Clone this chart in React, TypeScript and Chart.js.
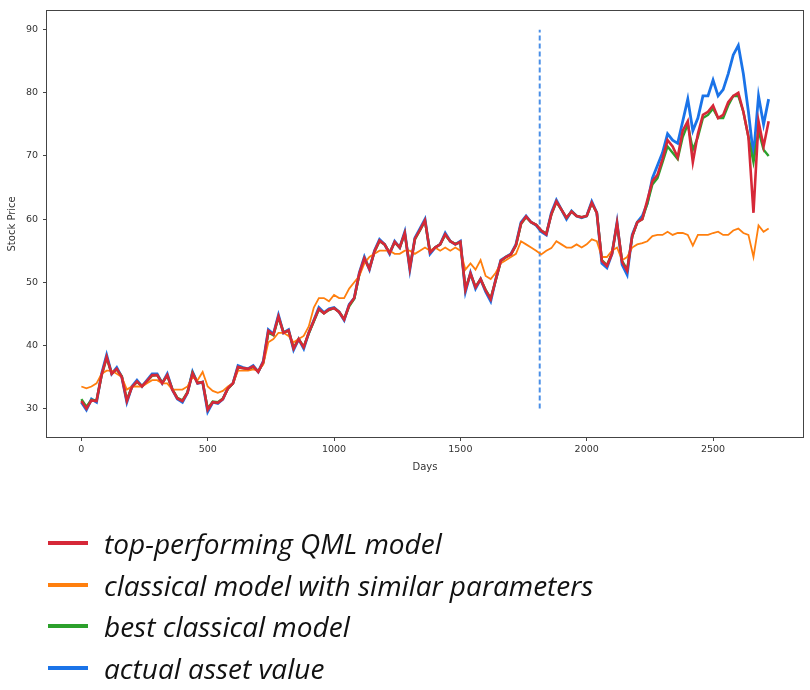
import React, { useEffect, useRef } from "react";
import { Chart, registerables } from "chart.js";

Chart.register(...registerables);

const days = [
  0, 20, 40, 60, 80, 100, 120, 140, 160, 180, 200, 220, 240, 260, 280, 300, 320, 340, 360, 380,
  400, 420, 440, 460, 480, 500, 520, 540, 560, 580, 600, 620, 640, 660, 680, 700, 720, 740, 760, 780,
  800, 820, 840, 860, 880, 900, 920, 940, 960, 980, 1000, 1020, 1040, 1060, 1080, 1100, 1120, 1140, 1160, 1180,
  1200, 1220, 1240, 1260, 1280, 1300, 1320, 1340, 1360, 1380, 1400, 1420, 1440, 1460, 1480, 1500, 1520, 1540, 1560, 1580,
  1600, 1620, 1640, 1660, 1680, 1700, 1720, 1740, 1760, 1780, 1800, 1820, 1840, 1860, 1880, 1900, 1920, 1940, 1960, 1980,
  2000, 2020, 2040, 2060, 2080, 2100, 2120, 2140, 2160, 2180, 2200, 2220, 2240, 2260, 2280, 2300, 2320, 2340, 2360, 2380,
  2400, 2420, 2440, 2460, 2480, 2500, 2520, 2540, 2560, 2580, 2600, 2620, 2640, 2660, 2680, 2700, 2720,
];

const actualValue = [
  31, 29.8, 31.5, 31, 35.5, 38.5, 35.5, 36.5, 35, 31, 33.5, 34.5, 33.5, 34.5, 35.5, 35.5, 34, 35.5, 33, 31.5,
  31, 32.5, 35.8, 34, 34.2, 29.5, 31, 30.8, 31.5, 33.3, 34, 36.8, 36.5, 36.3, 36.8, 35.8, 37.5, 42.5, 41.8, 44.8,
  42, 42.5, 39.3, 41, 39.5, 42, 44, 46, 45.2, 45.8, 46, 45.3, 44, 46.5, 47.5, 51.5, 54, 52, 55, 56.8,
  56, 54.5, 56.5, 55.5, 58, 52, 57, 58.5, 60, 54.5, 55.5, 56, 57.8, 56.5, 56, 56.5, 48.5, 51.5, 49, 50.5,
  48.5, 47, 50.5, 53.5, 54, 54.5, 56, 59.5, 60.5, 59.5, 59, 58, 57.5, 61, 63, 61.5, 60, 61.3, 60.5, 60.2,
  60.5, 62.8, 61, 53, 52.3, 54.5, 59.5, 52.8, 51.2, 57.5, 59.5, 60.5, 62.5, 66.5, 68.5, 70.5, 73.5, 72.5, 72, 75.5,
  79, 74, 76, 79.5, 79.5, 82, 79.5, 80.5, 83, 86, 87.5, 83, 77, 70, 79.5, 75, 79,
];

const qmlModel = [
  31.2, 30, 31.3, 31.2, 35.3, 38.2, 35.5, 36.3, 35, 31.2, 33.4, 34.3, 33.5, 34.4, 35.3, 35.3, 34, 35.3, 33, 31.6,
  31.2, 32.5, 35.6, 34, 34.2, 29.8, 31, 30.9, 31.5, 33.2, 34, 36.6, 36.4, 36.3, 36.7, 35.8, 37.4, 42.3, 41.7, 44.6,
  42, 42.4, 39.5, 41, 39.7, 42, 43.9, 45.8, 45.1, 45.7, 45.9, 45.3, 44.1, 46.4, 47.5, 51.4, 53.8, 52.1, 54.9, 56.6,
  56, 54.6, 56.4, 55.5, 57.8, 52.2, 56.9, 58.3, 59.8, 54.7, 55.5, 56, 57.6, 56.5, 56, 56.4, 48.8, 51.4, 49.2, 50.5,
  48.7, 47.3, 50.4, 53.4, 54, 54.4, 55.9, 59.3, 60.4, 59.5, 59.1, 58.2, 57.6, 60.8, 62.8, 61.5, 60.2, 61.2, 60.5, 60.3,
  60.5, 62.6, 61, 53.4, 52.6, 54.5, 59.4, 53.2, 51.8, 57.3, 59.5, 60, 63, 66, 67, 69.5, 72.5, 71.5, 69.8, 74,
  75.5, 69, 73.5, 76.5, 77, 78, 76, 76.5, 78.5, 79.5, 80, 77, 73, 61, 75.5, 71.5, 75.5,
];

const classicalSimilar = [
  33.5, 33.2, 33.5, 34, 35.5, 36, 36, 35.5, 35, 33, 33.5, 33.5, 33.5, 34, 34.5, 34.5, 34, 34, 33, 33,
  33, 33.5, 35, 34.5, 35.8, 33.5, 32.8, 32.5, 32.8, 33.5, 34, 36, 36, 36, 36.2, 36, 37, 40.5, 41, 42,
  42, 41.5, 40.5, 41, 41.5, 43, 46, 47.5, 47.5, 47, 48, 47.5, 47.5, 49, 50, 51, 53, 54, 54.5, 55,
  55, 55, 54.5, 54.5, 55, 55, 54.5, 55, 55.5, 55, 55.5, 55, 55.5, 55, 55.5, 55, 52, 53, 52, 53.5,
  51, 50.5, 51.5, 53, 53.5, 54, 54.5, 56.5, 56, 55.5, 55, 54.4, 55, 55.4, 56.5, 56, 55.5, 55.5, 56, 55.5,
  56, 56.8, 56.5, 54, 54, 55, 55.5, 53.5, 54, 55.5, 56, 56.2, 56.5, 57.3, 57.5, 57.5, 58, 57.5, 57.8, 57.8,
  57.5, 55.8, 57.5, 57.5, 57.5, 57.8, 58, 57.5, 57.5, 58.2, 58.5, 57.8, 57.5, 54, 59, 58, 58.5,
];

const bestClassical = [
  31.5, 30.3, 31.4, 31.3, 35.2, 38, 35.6, 36.2, 35.1, 31.4, 33.4, 34.2, 33.6, 34.3, 35.2, 35.3, 34.1, 35.2, 33.1, 31.7,
  31.3, 32.6, 35.7, 34.1, 34.2, 30, 31.1, 31, 31.6, 33.1, 34, 36.5, 36.4, 36.2, 36.6, 35.9, 37.2, 42, 41.6, 44.4,
  42.1, 42.3, 39.6, 41, 39.8, 41.9, 43.8, 45.7, 45.1, 45.6, 45.9, 45.3, 44.2, 46.2, 47.4, 51.2, 53.7, 52.2, 54.8, 56.5,
  56, 54.7, 56.3, 55.5, 57.7, 52.4, 56.8, 58.2, 59.7, 54.8, 55.5, 56, 57.5, 56.5, 56.1, 56.3, 49, 51.3, 49.3, 50.5,
  48.8, 47.5, 50.3, 53.3, 54, 54.4, 55.8, 59.2, 60.3, 59.5, 59.1, 58.2, 57.7, 60.7, 62.7, 61.5, 60.2, 61.2, 60.5, 60.3,
  60.5, 62.5, 61, 53.5, 52.7, 54.6, 59.2, 53.4, 52, 57.2, 59.5, 60, 62.5, 65.5, 66.5, 69, 71.5, 70.5, 69.5, 73,
  75, 71, 73, 76, 76.5, 77.5, 76, 76, 78, 79.5, 79.5, 77, 73, 69, 74, 71, 70,
];

const splitDay = [1814, 1814];
const splitLevels = [30, 90];

const xTicks = [0, 500, 1000, 1500, 2000, 2500];
const yTicks = [30, 40, 50, 60, 70, 80, 90];

const seriesNames = [
  "top-performing QML model",
  "classical model with similar parameters",
  "best classical model",
  "actual asset value",
];
const seriesColors = ["#d62838", "#ff7f0e", "#2ca02c", "#1a73e8"];

const toPoints = (arr: number[]) => days.map((d, i) => ({ x: d, y: arr[i] }));

const framePlugin = {
  id: "frame",
  afterDraw(chart: any) {
    const { ctx, chartArea } = chart;
    ctx.save();
    ctx.strokeStyle = "#444";
    ctx.lineWidth = 1;
    ctx.strokeRect(
      Math.round(chartArea.left) - 0.5,
      Math.round(chartArea.top) - 0.5,
      Math.round(chartArea.right - chartArea.left) + 1,
      Math.round(chartArea.bottom - chartArea.top) + 1
    );
    ctx.restore();
  },
};

export default function App() {
  const canvasRef = useRef<HTMLCanvasElement | null>(null);

  useEffect(() => {
    if (!canvasRef.current) return;
    const tickFont = { family: "DejaVu Sans", size: 9.5 };
    const chart = new Chart(canvasRef.current, {
      type: "line",
      data: {
        datasets: [
          {
            label: seriesNames[0],
            data: toPoints(qmlModel),
            borderColor: seriesColors[0],
            borderWidth: 2.6,
            pointRadius: 0,
          },
          {
            label: seriesNames[1],
            data: toPoints(classicalSimilar),
            borderColor: seriesColors[1],
            borderWidth: 1.8,
            pointRadius: 0,
          },
          {
            label: seriesNames[2],
            data: toPoints(bestClassical),
            borderColor: seriesColors[2],
            borderWidth: 2.4,
            pointRadius: 0,
          },
          {
            label: seriesNames[3],
            data: toPoints(actualValue),
            borderColor: seriesColors[3],
            borderWidth: 2.8,
            pointRadius: 0,
          },
          {
            label: "split",
            data: splitDay.map((d, i) => ({ x: d, y: splitLevels[i] })),
            borderColor: "#4a8fe7",
            borderWidth: 2,
            borderDash: [5, 3],
            pointRadius: 0,
          },
        ],
      },
      options: {
        animation: false,
        responsive: false,
        layout: { padding: { top: 8, right: 7, left: 0, bottom: 0 } },
        plugins: { legend: { display: false }, tooltip: { enabled: false } },
        scales: {
          x: {
            type: "linear",
            min: -136,
            max: 2856,
            afterBuildTicks: (scale: any) => {
              scale.ticks = xTicks.map((v) => ({ value: v }));
            },
            afterFit: (scale: any) => {
              scale.height = 43;
            },
            ticks: {
              font: tickFont,
              color: "#333",
              padding: 3,
              maxRotation: 0,
              callback: (v: any) => String(v),
            },
            grid: {
              display: true,
              drawOnChartArea: false,
              drawTicks: true,
              tickLength: 4,
              tickColor: "#444",
            },
            border: { display: false },
            title: {
              display: true,
              text: "Days",
              font: { family: "DejaVu Sans", size: 10 },
              color: "#333",
              padding: { top: 0, bottom: 7 },
            },
          },
          y: {
            type: "linear",
            min: 25.5,
            max: 93,
            afterBuildTicks: (scale: any) => {
              scale.ticks = yTicks.map((v) => ({ value: v }));
            },
            afterFit: (scale: any) => {
              scale.width = 47;
            },
            ticks: { font: tickFont, color: "#333", padding: 5, callback: (v: any) => String(v) },
            grid: {
              display: true,
              drawOnChartArea: false,
              drawTicks: true,
              tickLength: 4,
              tickColor: "#444",
            },
            border: { display: false },
            title: {
              display: true,
              text: "Stock Price",
              font: { family: "DejaVu Sans", size: 10 },
              color: "#333",
              padding: { top: 6, bottom: 0 },
            },
          },
        },
      },
      plugins: [framePlugin],
    });
    return () => chart.destroy();
  }, []);

  return (
    <div style={{ position: "absolute", left: 0, top: 0, width: 810, height: 690, background: "#fff" }}>
      <canvas ref={canvasRef} width={810} height={480} style={{ display: "block", width: 810, height: 480 }} />
      <div style={{ position: "absolute", left: 0, top: 0, width: 810, height: 690, pointerEvents: "none" }}>
        {seriesNames.map((name, i) => (
          <div
            key={name}
            style={{
              position: "absolute",
              left: 48,
              top: 543 + i * 41.5 - 20,
              height: 40,
              display: "flex",
              alignItems: "center",
            }}
          >
            <span
              style={{
                display: "inline-block",
                width: 40,
                height: 4,
                background: seriesColors[i],
                marginRight: 16,
              }}
            />
            <span
              style={{
                fontFamily: "'Open Sans', sans-serif",
                fontStyle: "italic",
                fontSize: 28,
                color: "#111",
                whiteSpace: "nowrap",
                lineHeight: "40px",
              }}
            >
              {name}
            </span>
          </div>
        ))}
      </div>
    </div>
  );
}
